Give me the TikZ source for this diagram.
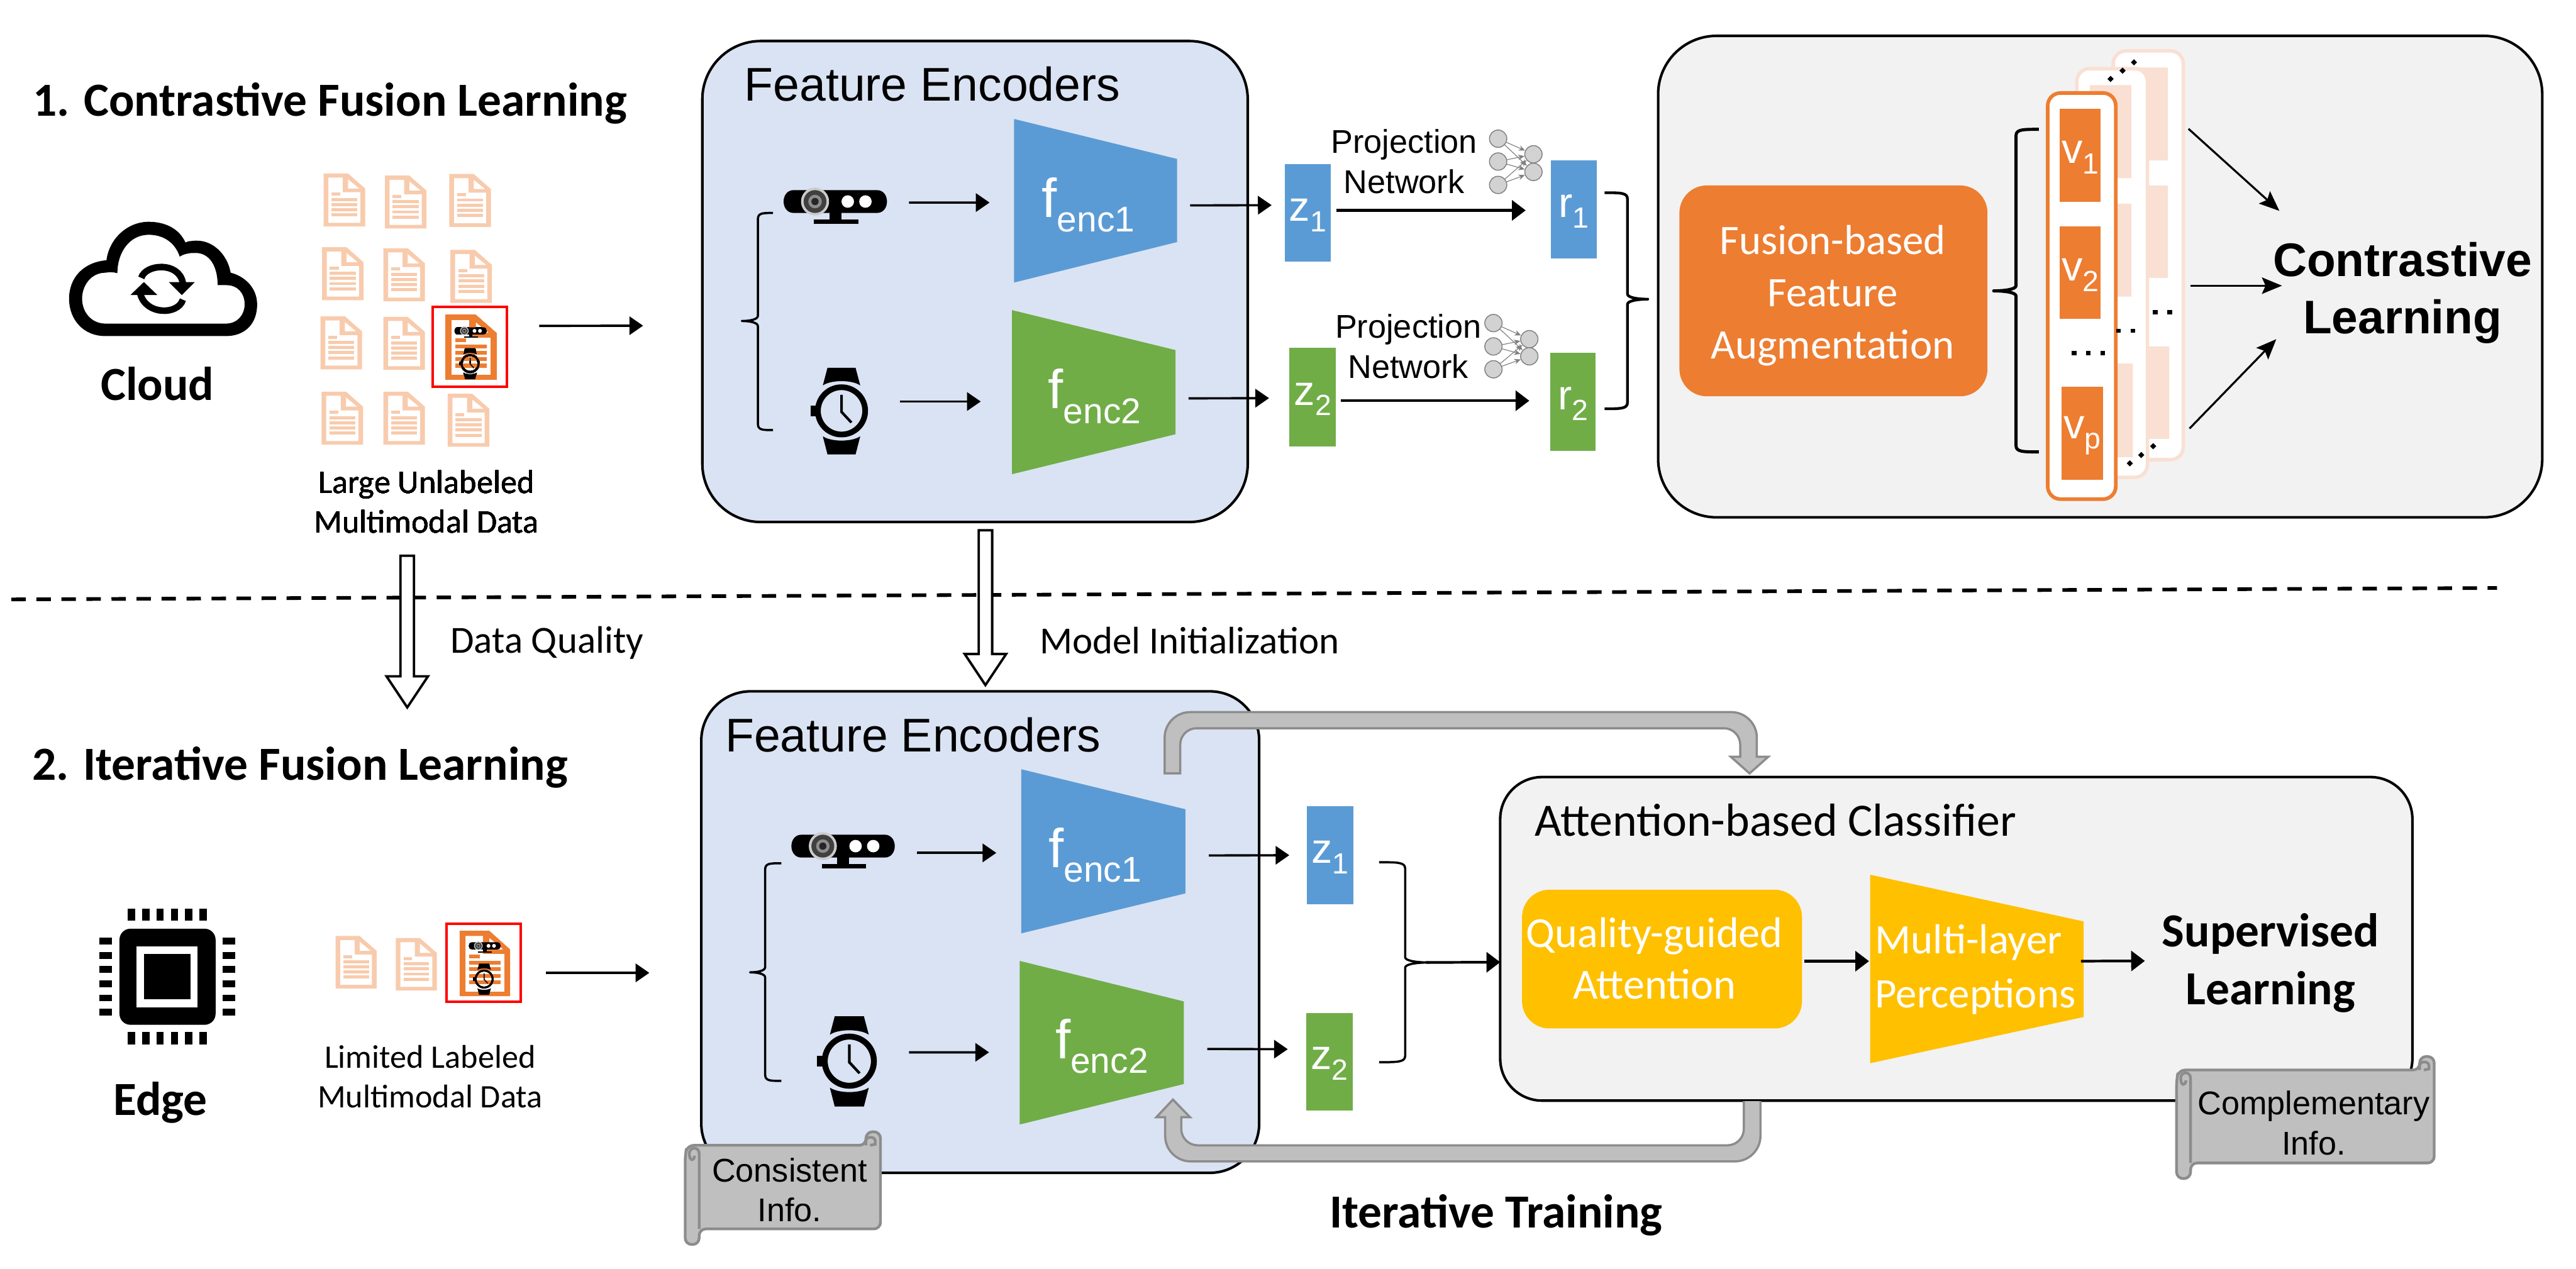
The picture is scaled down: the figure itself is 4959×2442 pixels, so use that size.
\documentclass[tikz,border=0pt]{standalone}
\usepackage{fontspec}
\setmainfont{Carlito}
\newfontfamily\ari{Liberation Sans}
\usetikzlibrary{arrows.meta,calc}
\definecolor{cblue}{HTML}{5B9BD5}
\definecolor{cgreen}{HTML}{70AD47}
\definecolor{corange}{HTML}{ED7D31}
\definecolor{cyellow}{HTML}{FFC000}
\definecolor{cbox}{HTML}{DAE3F3}
\definecolor{cgrey}{HTML}{F2F2F2}
\definecolor{cdoc}{HTML}{F8CBAD}
\definecolor{ccard}{HTML}{F9E0D3}
\definecolor{cband}{HTML}{BFBFBF}
\definecolor{cedge}{HTML}{8C8C8C}
\tikzset{
  arr/.style={line width=1.25pt,-{Triangle[length=7.5pt,width=10pt]}},
  arrb/.style={line width=1.45pt,-{Triangle[length=7.5pt,width=11pt]}},
  thinarr/.style={line width=1.1pt,-{Stealth[length=11pt,width=9pt,inset=2pt]}},
  body/.style={inner sep=0pt,outer sep=0pt},
  txt/.style={inner sep=0pt,outer sep=0pt,align=center},
  ar18/.style={txt,font=\ari\fontsize{18}{22}\selectfont},
  ar25/.style={txt,font=\ari\fontsize{25.9}{30}\selectfont},
  arbold/.style={txt,font=\ari\bfseries\fontsize{25.8}{31.3}\selectfont},
  ca18/.style={txt,font=\fontsize{18}{21.8}\selectfont},
  ca21/.style={txt,font=\fontsize{21}{24}\selectfont},
  ca23/.style={txt,font=\fontsize{23}{28.2}\selectfont},
  cab/.style={txt,font=\bfseries\fontsize{26}{31}\selectfont},
  band/.style={draw=cedge,fill=cband,line width=1.2pt},
  hollow/.style={draw=black,fill=white,line width=1.3pt},
  scrollshape/.style={draw=cedge,fill=cband,line width=1.5pt,rounded corners=3.6pt},
  neuron/.style={draw=gray,fill=cband!70,line width=.5pt,inner sep=0pt,minimum size=9.5pt,circle},
  neuronlink/.style={draw=gray,line width=.4pt,-{Stealth[length=3.5pt,width=3pt]}},
}
% name,x1,y1,x2,y2,style,text
\newcommand{\bx}[7]{%
  \pgfmathsetlengthmacro\bxw{(#4-#2)*0.1mm}%
  \pgfmathsetlengthmacro\bxh{(#5-#3)*0.1mm}%
  \node[body,#6,minimum width=\bxw,minimum height=\bxh] (#1) at ({(#2+#4)/2},{(#3+#5)/2}) {#7};}
% name,x1,x2,lefttop,leftbot,righttop,rightbot,colour
\newcommand{\trap}[8]{%
  \fill[#8] (#2,#4) -- (#3,#6) -- (#3,#7) -- (#2,#5) -- cycle;
  \bx{#1}{#2}{#4}{#3}{#5}{}{}}
\newcommand{\symb}[2]{\rule{0pt}{14.5pt}{\fontsize{23}{24}\selectfont #1}\raisebox{-5.8pt}{\fontsize{16}{16}\selectfont #2}}
\newcommand{\fenc}[1]{{\fontsize{30}{30}\selectfont f}\raisebox{-8pt}{\fontsize{19.6}{20}\selectfont enc#1}}
\newcommand{\camIcon}[3]{%
  \begin{scope}[shift={(#1,#2)},scale=#3]
    \fill[black] (-80,-22) -- (80,-22) .. controls (106,-22) and (106,22) .. (80,22) -- (-80,22) .. controls (-106,22) and (-106,-22) .. (-80,-22) -- cycle;
    \fill[black] (-11,20) rectangle (12,36);
    \fill[black] (-41,35) rectangle (44,43);
    \fill[white] (24,0) circle (12);
    \fill[white] (58,0) circle (12);
    \fill[cband!80] (-39,0) circle (27);
    \fill[black!75] (-39,0) circle (22);
    \fill[black!45] (-39,0) circle (13);
    \fill[black!85] (-39,0) circle (7);
  \end{scope}}
\newcommand{\watchIcon}[3]{%
  \begin{scope}[shift={(#1,#2)},scale=#3]
    \fill[black,even odd rule] (0,0) circle (51) (0,0) circle (40);
    \fill[black] (-27,-83) -- (27,-83) -- (36,-49) .. controls (20,-60) and (-20,-60) .. (-36,-49) -- cycle;
    \fill[black] (-27,84) -- (27,84) -- (36,49) .. controls (20,60) and (-20,60) .. (-36,49) -- cycle;
    \fill[black] (-60,-10) rectangle (-48,10);
    \fill[black] (-2.5,-31) -- (2.5,-31) -- (2.5,1) -- (21,21) -- (17,24) -- (-2.5,3) -- cycle;
  \end{scope}}
\newcommand{\docIcon}[5]{%
  \begin{scope}[shift={(#1,#2)},xscale=#3/80,yscale=#4/102]
    \fill[#5,even odd rule] (0,0) -- (47,0) -- (80,29) -- (80,102) -- (0,102) -- cycle
       (9,8) -- (37,8) -- (37,36) -- (71,36) -- (71,95) -- (9,95) -- cycle
       (47,11) -- (69,29) -- (47,29) -- cycle;
    \fill[#5] (15,37) rectangle (32,43);
    \foreach \ya in {47,57,67,77} \fill[#5] (15,\ya) rectangle (65,\ya+6);
  \end{scope}}
% tipx,stemx,endx,ytop,ymid,ybot,line width
\newcommand{\mybrace}[7]{%
  \draw[line width=#7,line join=round] (#3,#4) .. controls ({#2+0.3*(#3-#2)},#4) and (#2,#4) .. (#2,#4+12) -- (#2,#5-10) .. controls (#2,#5-3) and ({#2+0.5*(#1-#2)},#5) .. (#1,#5) .. controls ({#2+0.5*(#1-#2)},#5) and (#2,#5+3) .. (#2,#5+10) -- (#2,#6-12) .. controls (#2,#6) and ({#2+0.3*(#3-#2)},#6) .. (#3,#6);}
% x1,yt,x2,yb
\newcommand{\scrollIcon}[4]{%
  \draw[scrollshape] (#1,#2+18) -- (#1+4,#2) -- (#3-28,#2) -- (#3-28,#2-26) -- (#3,#2-26) -- (#3,#4) -- (#1+27,#4) -- (#1+27,#4+30) -- (#1,#4+30) -- cycle;
  \draw[draw=cedge,line width=1.5pt] (#1+27,#4) -- (#1+27,#2+16) .. controls (#1+27,#2+2) and (#1+8,#2+2) .. (#1+8,#2+16) .. controls (#1+8,#2+32) and (#1+18,#2+30) .. (#1+18,#2+20);
  \draw[draw=cedge,line width=1.5pt] (#3-28,#2) -- (#3-28,#2-8) .. controls (#3-28,#2-18) and (#3-10,#2-18) .. (#3-10,#2-8) -- (#3-10,#2-2) -- (#3-20,#2);}
\newcommand{\hollowArrow}[3]{%
  \draw[hollow,line join=miter] (#1-13,#2) -- (#1+13,#2) -- (#1+13,#3-60) -- (#1+40,#3-60) -- (#1,#3) -- (#1-40,#3-60) -- (#1-13,#3-60) -- cycle;}
\newcommand{\diam}[2]{\fill[black] (#1-6,#2) -- (#1,#2-6) -- (#1+6,#2) -- (#1,#2+6) -- cycle;}
\newcommand{\sqdot}[2]{\fill[black] (#1-4.5,#2-4) rectangle (#1+4.5,#2+4);}
\begin{document}
\begin{tikzpicture}[x=0.1mm,y=-0.1mm]
\useasboundingbox (0,0) rectangle (4959,2442);
\fill[white] (0,0) rectangle (4959,2442);

% ---------- titles, dashed rule ----------
\node[cab,anchor=west] (title1) at (63,199) {1. Contrastive Fusion Learning};
\node[cab,anchor=west] (title2) at (62,1477) {2. Iterative Fusion Learning};
\coordinate (dashL) at (22,1154);
\coordinate (dashR) at (4807,1132);
\draw[line width=2pt,dash pattern=on 7.9pt off 5.8pt] (dashL) -- (dashR);

% ---------- cloud ----------
\fill[black,even odd rule]
  (203,647) -- (435,647) .. controls (470,647) and (495,625) .. (495,586) .. controls (495,555) and (472,532) .. (444,525) .. controls (438,490) and (408,458) .. (369,464) .. controls (365,464) and (360,465) .. (357,467) .. controls (345,440) and (318,427) .. (286,427) .. controls (245,427) and (210,460) .. (205,501) .. controls (160,505) and (133,535) .. (133,575) .. controls (133,615) and (160,647) .. (203,647) -- cycle
  (203,623) -- (435,623) .. controls (458,623) and (471,605) .. (471,586) .. controls (471,565) and (458,549) .. (436,549) -- (419,549) .. controls (419,515) and (405,485) .. (373,487) .. controls (362,487) and (352,490) .. (346,494) .. controls (338,470) and (318,452) .. (286,452) .. controls (250,452) and (226,485) .. (226,526) .. controls (215,523) and (210,524) .. (203,525) .. controls (175,525) and (158,550) .. (158,575) .. controls (158,600) and (175,623) .. (203,623) -- cycle;
\draw[line width=3.6pt] (272,535) .. controls (280,508) and (345,503) .. (352,545);
\draw[line width=3.6pt] (352,577) .. controls (343,607) and (280,607) .. (270,565);
\fill[black] (325,543) -- (375,543) -- (350,568) -- cycle;
\fill[black] (251,568) -- (303,568) -- (277,543) -- cycle;
\node[cab] (cloudT) at (303,739) {Cloud};

% ---------- data, top ----------
\foreach \xa/\ya in {623/334,741/338,865/335,620/476,738/478,867/481,617/609,738/610,619/754,738/754,862/758}
  \docIcon{\xa}{\ya}{80}{102}{cdoc}
\docIcon{858}{606}{98}{125}{corange}
\camIcon{906}{637}{0.31}
\watchIcon{905}{700}{0.36}
\bx{redA}{833}{591}{976}{744}{draw=red,line width=1.4pt}{}
\node[ca18] (dataA) at (821,966) {Large Unlabeled\\Multimodal Data};
\node[ca21] (dq) at (1053,1238) {Data Quality};
\hollowArrow{784}{1070}{1362}

% ---------- feature encoders, top ----------
\bx{feA}{1352}{79}{2402}{1005}{draw=black,fill=cbox,line width=1.4pt,rounded corners=32pt}{}
\node[ar25,anchor=west] (feAT) at (1433,162) {Feature Encoders};
\trap{fA1}{1952}{2266}{229}{544}{306}{466}{cblue}
\trap{fA2}{1948}{2263}{597}{913}{674}{836}{cgreen}
\node[ar25,text=white] (fA1T) at (2095,394) {\fenc{1}};
\node[ar25,text=white] (fA2T) at (2107,763) {\fenc{2}};
\camIcon{1608}{388}{1}
\watchIcon{1620}{791}{1}
\mybrace{1428}{1459}{1488}{410}{618}{828}{1.2pt}
\coordinate (camAe) at (1750,390);
\coordinate (watAe) at (1733,773);
\draw[arr] (camAe) -- ([shift={(-47,3.5)}]fA1.west);
\draw[arr] (watAe) -- ([shift={(-60,18)}]fA2.west);
\draw[arr] (redA.east) ++(62,-40) coordinate (dataAe) -- ([shift={(-114,85)}]feA.west);
\bx{zA1}{2473}{316}{2562}{504}{fill=cblue,text=white}{\ari\symb{z}{1}}
\bx{zA2}{2482}{670}{2572}{859}{fill=cgreen,text=white}{\ari\symb{z}{2}}
\bx{rA1}{2985}{309}{3074}{497}{fill=cblue,text=white}{\ari\symb{r}{1}}
\bx{rA2}{2984}{679}{3072}{868}{fill=cgreen,text=white}{\ari\symb{r}{2}}
\draw[arr] ([shift={(25,9)}]fA1.east) -- ([shift={(-25,-15)}]zA1.west);
\draw[arr] ([shift={(25,12)}]fA2.east) -- ([shift={(-39,2)}]zA2.west);
\draw[arrb] ([shift={(11,-5)}]zA1.east) -- ([shift={(-48,2)}]rA1.west);
\draw[arrb] ([shift={(9,7)}]zA2.east) -- ([shift={(-40,-2)}]rA2.west);
\node[ar18] (pnA) at (2703,311) {Projection\\Network};
\node[ar18] (pnB) at (2711,667) {Projection\\Network};
% small networks
\foreach \nm/\xa/\xb/\ya/\yb/\yc/\yd/\ye in {a/2884/2952/267/311/356/297/331,b/2875/2944/622/667/711/653/686}{
  \node[neuron] (\nm1) at (\xa,\ya) {};
  \node[neuron] (\nm2) at (\xa,\yb) {};
  \node[neuron] (\nm3) at (\xa,\yc) {};
  \node[neuron] (\nm4) at (\xb,\yd) {};
  \node[neuron] (\nm5) at (\xb,\ye) {};
  \draw[neuronlink] (\nm1) -- (\nm4);
  \draw[neuronlink] (\nm1) -- (\nm5);
  \draw[neuronlink] (\nm2) -- (\nm4);
  \draw[neuronlink] (\nm2) -- (\nm5);
  \draw[neuronlink] (\nm3) -- (\nm4);
  \draw[neuronlink] (\nm3) -- (\nm5);
}
\mybrace{3172}{3133}{3089}{371}{576}{787}{1.5pt}
\hollowArrow{1897}{1021}{1319}
\node[ca21] (mi) at (2290,1233) {Model Initialization};

% ---------- contrastive box ----------
\bx{clB}{3192}{69}{4894}{996}{draw=black,fill=cgrey,line width=1.4pt,rounded corners=32pt}{}
\bx{fus}{3233}{357}{3826}{763}{fill=corange,rounded corners=15pt}{}
\node[ca23,text=white,font=\fontsize{23}{28.5}\selectfont] (fusT) at (3528,569) {Fusion-based\\Feature\\Augmentation};
\mybrace{3838}{3881}{3925}{249}{560}{870}{1.7pt}
% stacked cards
\bx{card3}{4068}{98}{4203}{885}{draw=ccard,fill=white,line width=1.9pt,rounded corners=7pt}{}
\fill[ccard] (4095,130) rectangle (4173,309) (4095,357) rectangle (4173,535) (4098,667) rectangle (4176,845);
\bx{card2}{3998}{132}{4134}{919}{draw=ccard,fill=white,line width=1.9pt,rounded corners=7pt}{}
\fill[ccard] (4023,164) rectangle (4103,343) (4023,392) rectangle (4103,571) (4026,700) rectangle (4106,880);
\diam{4108}{120}\diam{4086}{136}\diam{4063}{152}
\diam{4145}{859}\diam{4122}{876}\diam{4100}{892}
\sqdot{4149}{601}\sqdot{4177}{601}\sqdot{4106}{637}
\bx{card1}{3942}{179}{4073}{961}{draw=corange,fill=white,line width=2pt,rounded corners=7pt}{}
\bx{vA}{3965}{209}{4044}{389}{fill=corange,text=white}{\ari\symb{v}{1}}
\bx{vB}{3965}{436}{4044}{614}{fill=corange,text=white}{\ari\symb{v}{2}}
\bx{vC}{3969}{745}{4048}{924}{fill=corange,text=white}{\ari\symb{v}{p}}
\sqdot{3993}{680}\sqdot{4020}{680}\sqdot{4048}{680}
\sqdot{4078}{637}
\node[arbold] (clT) at (4625,564) {Contrastive\\Learning};
\coordinate (clA) at (4388,406);
\coordinate (clM) at (4393,550);
\coordinate (clC) at (4382,653);
\coordinate (cs1) at (4213,248);
\coordinate (cs2) at (4217,550);
\coordinate (cs3) at (4215,825);
\draw[thinarr] (cs1) -- (clA);
\draw[thinarr] (cs2) -- (clM);
\draw[thinarr] (cs3) -- (clC);

% ---------- edge chip ----------
\fill[black,rounded corners=6pt] (230,1788) rectangle (415,1973);
\fill[white] (263,1822) rectangle (380,1939);
\fill[black] (277,1836) rectangle (367,1924);
\foreach \k in {0,...,5}{
  \fill[black] ({246+27.6*\k},1750) rectangle ({260+27.6*\k},1773);
  \fill[black] ({246+27.6*\k},1987) rectangle ({260+27.6*\k},2011);
  \fill[black] (191,{1805.5+27.3*\k}) rectangle (215,{1818.5+27.3*\k});
  \fill[black] (429,{1805.5+27.3*\k}) rectangle (453,{1818.5+27.3*\k});
}
\node[cab] (edgeT) at (309,2123) {Edge};

% ---------- data, bottom ----------
\docIcon{646}{1802}{79}{101}{cdoc}
\docIcon{762}{1806}{79}{101}{cdoc}
\docIcon{885}{1792}{97}{126}{corange}
\camIcon{933}{1821}{0.31}
\watchIcon{932}{1885}{0.36}
\bx{redB}{860}{1778}{1002}{1929}{draw=red,line width=1.4pt}{}
\node[ca18] (dataB) at (828,2073) {Limited Labeled\\Multimodal Data};

% ---------- feature encoders, bottom ----------
\bx{feB}{1350}{1331}{2424}{2258}{draw=black,fill=cbox,line width=1.4pt,rounded corners=27pt}{}
\node[ar25,anchor=west] (feBT) at (1396,1415) {Feature Encoders};
\draw[arr] (redB.east) ++(49,19.5) coordinate (dataBe) -- ([shift={(-100,78.5)}]feB.west);
\trap{fB1}{1966}{2282}{1481}{1797}{1558}{1720}{cblue}
\trap{fB2}{1963}{2279}{1850}{2165}{1928}{2087}{cgreen}
\node[ar25,text=white] (fB1T) at (2108,1646) {\fenc{1}};
\node[ar25,text=white] (fB2T) at (2121,2014) {\fenc{2}};
\camIcon{1623}{1629}{1}
\watchIcon{1635}{2043}{1.04}
\mybrace{1444}{1473}{1504}{1662}{1872}{2081}{1.2pt}
\coordinate (camBe) at (1765,1642);
\coordinate (watBe) at (1750,2026);
\draw[arr] (camBe) -- ([shift={(-48,3)}]fB1.west);
\draw[arr] (watBe) -- ([shift={(-59,18.5)}]fB2.west);
\bx{zB1}{2516}{1552}{2605}{1741}{fill=cblue,text=white}{\ari\symb{z}{1}}
\bx{zB2}{2515}{1950}{2604}{2138}{fill=cgreen,text=white}{\ari\symb{z}{2}}
\draw[arr] ([shift={(45,8)}]fB1.east) -- ([shift={(-34,0)}]zB1.west);
\draw[arr] ([shift={(45,12)}]fB2.east) -- ([shift={(-36,-24)}]zB2.west);

% ---------- attention ----------
\bx{att}{2888}{1496}{4644}{2119}{draw=black,fill=cgrey,line width=1.4pt,rounded corners=23pt}{}
\mybrace{2752}{2705}{2655}{1660}{1853}{2045}{1.2pt}
\coordinate (braceB) at (2745,1853);
\draw[arrb] (braceB) -- ([shift={(0,45)}]att.west);
\node[txt,font=\fontsize{25.4}{30}\selectfont,anchor=west] (attT) at (2955,1579) {Attention-based Classifier};
\bx{qual}{2930}{1713}{3469}{1980}{fill=cyellow,rounded corners=15pt}{}
\node[txt,text=white,font=\fontsize{23.5}{28.2}\selectfont] (qualT) at (3185,1845) {Quality-guided\\Attention};
\trap{mlp}{3600}{4011}{1684}{2047}{1774}{1958}{cyellow}
\node[txt,text=white,font=\fontsize{23}{28.2}\selectfont,anchor=west] (mlpT1) at (3610,1815) {Multi-layer};
\node[txt,text=white,font=\fontsize{23}{28.2}\selectfont,anchor=west] (mlpT2) at (3610,1919) {Perceptions};
\draw[arrb] ([shift={(4,4)}]qual.east) -- ([shift={(-2,-15)}]mlp.west);
\node[txt,font=\bfseries\fontsize{26}{32}\selectfont] (supT) at (4371,1854) {Supervised\\Learning};
\coordinate (supW) at (4129,1850);
\draw[arrb] ([shift={(-5,-15)}]mlp.east) -- (supW);

% ---------- grey arrows ----------
\draw[band,line join=miter] (2242,1489) [rounded corners=14pt] -- (2242,1371) -- (3382,1371) [sharp corners] -- (3382,1457) -- (3404,1457) -- (3368,1489) -- (3332,1457) -- (3350,1457) [rounded corners=9pt] -- (3350,1402) -- (2272,1402) [sharp corners] -- (2272,1489) -- cycle;
\draw[band,line join=miter] (3389,2120) [rounded corners=14pt] -- (3389,2236) -- (2243,2236) [sharp corners] -- (2243,2151) -- (2226,2151) -- (2258,2117) -- (2291,2151) -- (2274,2151) [rounded corners=9pt] -- (2274,2205) -- (3357,2205) [sharp corners] -- (3357,2120);
\node[cab] (iterT) at (2880,2340) {Iterative Training};

% ---------- scrolls ----------
\scrollIcon{1319}{2205}{1695}{2366}
\node[ar18] (consT) at (1520,2291) {Consistent\\Info.};
\scrollIcon{4190}{2060}{4686}{2239}
\node[ar18] (compT) at (4454,2162) {Complementary\\Info.};
\end{tikzpicture}
\end{document}
